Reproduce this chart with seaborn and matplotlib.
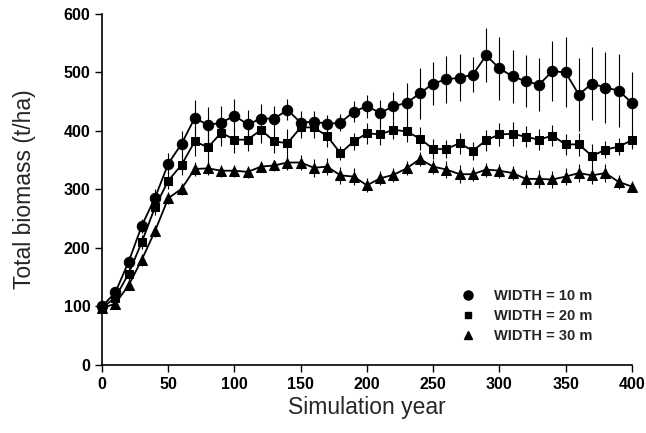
import numpy as np
import pandas as pd
import matplotlib
matplotlib.use("Agg")
import matplotlib.pyplot as plt
from matplotlib.lines import Line2D
import seaborn as sns

# simulation years (every 10 years)
years = list(range(0, 410, 10))

# mean total biomass per stream width
w10 = [100, 124, 176, 238, 286, 344, 378, 422, 410, 414, 426, 411, 421, 421, 436, 414,
       416, 412, 414, 433, 442, 431, 442, 448, 464, 481, 488, 491, 496, 529, 507, 493,
       485, 479, 502, 500, 462, 481, 474, 469, 448]
w20 = [98, 115, 156, 210, 270, 315, 342, 382, 372, 397, 385, 385, 402, 382, 379, 406,
       406, 391, 362, 382, 396, 394, 402, 399, 387, 369, 369, 379, 366, 384, 394, 395,
       390, 385, 392, 377, 377, 357, 368, 373, 384]
w30 = [97, 105, 136, 180, 229, 285, 301, 335, 336, 332, 332, 330, 339, 341, 346, 346,
       337, 339, 324, 322, 307, 319, 325, 336, 352, 339, 334, 326, 326, 334, 332, 328,
       318, 318, 317, 322, 328, 324, 328, 313, 305]

# error bar half-widths
err10 = [5, 8, 10, 12, 15, 18, 22, 30, 30, 28, 28, 25, 25, 22, 18, 20, 18, 15, 15, 18,
         20, 22, 25, 34, 43, 37, 40, 40, 30, 46, 54, 45, 45, 45, 51, 60, 63, 62, 60, 62, 52]
err20 = [5, 8, 10, 12, 14, 15, 18, 25, 28, 22, 22, 20, 22, 20, 25, 18, 18, 18, 12, 15,
         18, 18, 15, 18, 20, 17, 15, 18, 15, 18, 20, 20, 18, 18, 18, 18, 20, 20, 15, 15, 15]
err30 = [4, 6, 8, 10, 10, 10, 10, 12, 12, 10, 10, 10, 10, 10, 12, 12, 15, 15, 15, 15,
         12, 12, 12, 12, 12, 12, 15, 15, 12, 12, 12, 12, 15, 15, 15, 15, 15, 15, 15, 12, 10]

labels = ["WIDTH = 10 m", "WIDTH = 20 m", "WIDTH = 30 m"]
markers = ["o", "s", "^"]
msizes = [7.5, 6, 7]

df = pd.concat([
    pd.DataFrame({"year": years, "biomass": w10, "err": err10, "width": labels[0]}),
    pd.DataFrame({"year": years, "biomass": w20, "err": err20, "width": labels[1]}),
    pd.DataFrame({"year": years, "biomass": w30, "err": err30, "width": labels[2]}),
])

sns.set_style("ticks")
plt.rcParams['font.family'] = ['Liberation Sans', 'DejaVu Sans']

fig = plt.figure(figsize=(6.46, 4.33), dpi=100)
ax = fig.add_axes([0.158, 0.157, 0.820, 0.811])

for lab, mk, ms in zip(labels, markers, msizes):
    sub = df[df["width"] == lab]
    ax.errorbar(sub["year"], sub["biomass"], yerr=sub["err"], fmt="none",
                ecolor="black", elinewidth=0.8, capsize=0, clip_on=False, zorder=2)
    sns.lineplot(data=sub, x="year", y="biomass", ax=ax, color="black", lw=1.3,
                 marker=mk, markersize=ms, markeredgecolor="black",
                 markerfacecolor="black", clip_on=False, zorder=3, legend=False)

ax.set_xlim(0, 400)
ax.set_ylim(0, 600)
ax.set_xticks(range(0, 401, 50))
ax.set_yticks(range(0, 601, 100))
ax.tick_params(direction="out", length=5, width=1, labelsize=11.5, colors="black")
for t in ax.get_xticklabels() + ax.get_yticklabels():
    t.set_fontweight("bold")
ax.set_xlabel("Simulation year", fontsize=16.5, labelpad=3)
ax.set_ylabel("Total biomass (t/ha)", fontsize=16.5, labelpad=20)
sns.despine(ax=ax)
for s in ["left", "bottom"]:
    ax.spines[s].set_linewidth(1.2)
    ax.spines[s].set_color("black")

handles = [Line2D([], [], color="black", marker=m, linestyle="none", markersize=s - 1)
           for m, s in zip(markers, msizes)]
leg = ax.legend(handles, labels, loc="lower right", bbox_to_anchor=(0.95, 0.025),
                frameon=False, handletextpad=0.8, labelspacing=0.4,
                prop={"weight": "bold", "size": 10.5})

fig.savefig("out.png", dpi=100, facecolor="white")
